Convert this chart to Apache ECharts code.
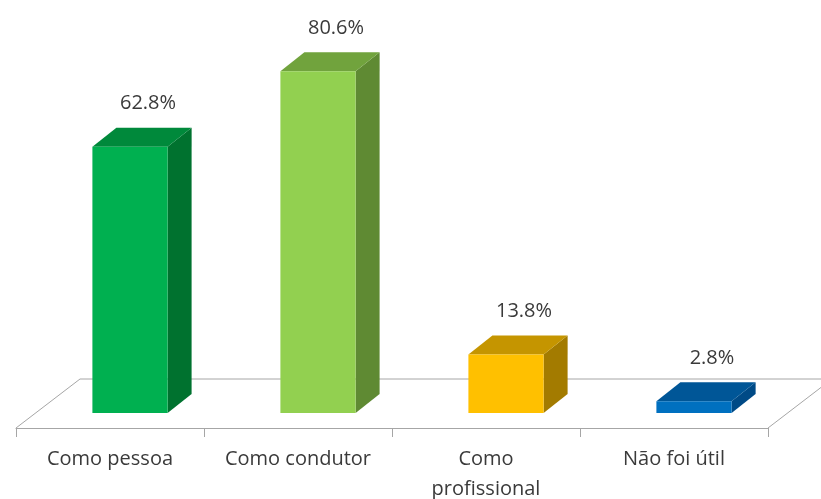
<!DOCTYPE html>
<html>
<head>
<meta charset="utf-8">
<script src="https://cdn.jsdelivr.net/npm/echarts@6/dist/echarts.min.js"></script>
<style>
  html, body { margin: 0; padding: 0; background: #ffffff; }
  #chart { width: 821px; height: 499px; }
</style>
</head>
<body>
<div id="chart"></div>
<script>
// Categories and their shares (percent)
const categories = ['Como pessoa', 'Como condutor', 'Como\nprofissional', 'Não foi útil'];
const values = [62.8, 80.6, 13.8, 2.8];

// Face colours for each bar: front, side, top
const barColors = [
  { front: '#00b050', side: '#00722f', top: '#00893b' },
  { front: '#92d050', side: '#5f8a33', top: '#71a33d' },
  { front: '#ffc000', side: '#a37b00', top: '#c59500' },
  { front: '#0070c0', side: '#004a86', top: '#005697' }
];

// Oblique projection of the floor and the bars
const FLOOR_DEPTH = [64, -49];
const BAR_SHIFT = [20, -15];
const BAR_DEPTH = [24, -19];
const BAR_WIDTH_RATIO = 0.4;
const LINE_COLOR = '#a6a6a6';
const TEXT_COLOR = '#3a3a3a';
const FONT = '"Open Sans", "Noto Sans", sans-serif';

const chart = echarts.init(document.getElementById('chart'));

function renderFloor(params, api) {
  const band = api.size([1, 0])[0];
  const p0 = api.coord([0, 0]);
  const left = p0[0] - band / 2;
  const right = left + band * categories.length;
  const y = p0[1];
  const dx = FLOOR_DEPTH[0], dy = FLOOR_DEPTH[1];
  const style = { stroke: LINE_COLOR, lineWidth: 1, fill: null };
  return {
    type: 'group',
    children: [
      { type: 'polyline', shape: { points: [[left, y], [left + dx, y + dy], [right + dx, y + dy], [right, y]] }, style: style }
    ]
  };
}

function renderBar(params, api) {
  const idx = api.value(0);
  const v = api.value(1);
  const base = api.coord([idx, 0]);
  const top = api.coord([idx, v]);
  const bw = api.size([1, 0])[0] * BAR_WIDTH_RATIO;
  const x0 = base[0] - bw / 2 + BAR_SHIFT[0];
  const x1 = x0 + bw;
  const yb = base[1] + BAR_SHIFT[1];
  const yt = top[1] + BAR_SHIFT[1];
  const dx = BAR_DEPTH[0], dy = BAR_DEPTH[1];
  const c = barColors[idx];
  return {
    type: 'group',
    children: [
      { type: 'polygon', shape: { points: [[x1, yb], [x1 + dx, yb + dy], [x1 + dx, yt + dy], [x1, yt]] }, style: { fill: c.side } },
      { type: 'polygon', shape: { points: [[x0, yt], [x1, yt], [x1 + dx, yt + dy], [x0 + dx, yt + dy]] }, style: { fill: c.top } },
      { type: 'rect', shape: { x: x0, y: yt, width: bw, height: yb - yt }, style: { fill: c.front } },
      {
        type: 'text',
        style: {
          text: v.toFixed(1) + '%',
          x: (x0 + x1) / 2 + 18,
          y: yt + dy - 24,
          align: 'center',
          verticalAlign: 'middle',
          fill: TEXT_COLOR,
          font: '20px ' + FONT
        }
      }
    ]
  };
}

chart.setOption({
  animation: false,
  backgroundColor: '#ffffff',
  grid: { left: 16, right: 53, top: 4, bottom: 71, containLabel: false, outerBoundsMode: 'none' },
  xAxis: {
    type: 'category',
    data: categories,
    boundaryGap: true,
    axisLine: { show: true, lineStyle: { color: LINE_COLOR, width: 1 } },
    axisTick: { show: true, length: 9, lineStyle: { color: LINE_COLOR } },
    axisLabel: {
      color: TEXT_COLOR,
      fontFamily: FONT,
      fontSize: 20,
      lineHeight: 30,
      margin: 16,
      verticalAlign: 'top',
      interval: 0
    },
    splitLine: { show: false }
  },
  yAxis: { type: 'value', min: 0, max: 100, show: false },
  series: [
    { type: 'custom', z: 1, silent: true, data: [[0]], renderItem: renderFloor },
    { type: 'custom', z: 2, silent: true, data: values.map((v, i) => [i, v]), renderItem: renderBar }
  ]
});
</script>
</body>
</html>
